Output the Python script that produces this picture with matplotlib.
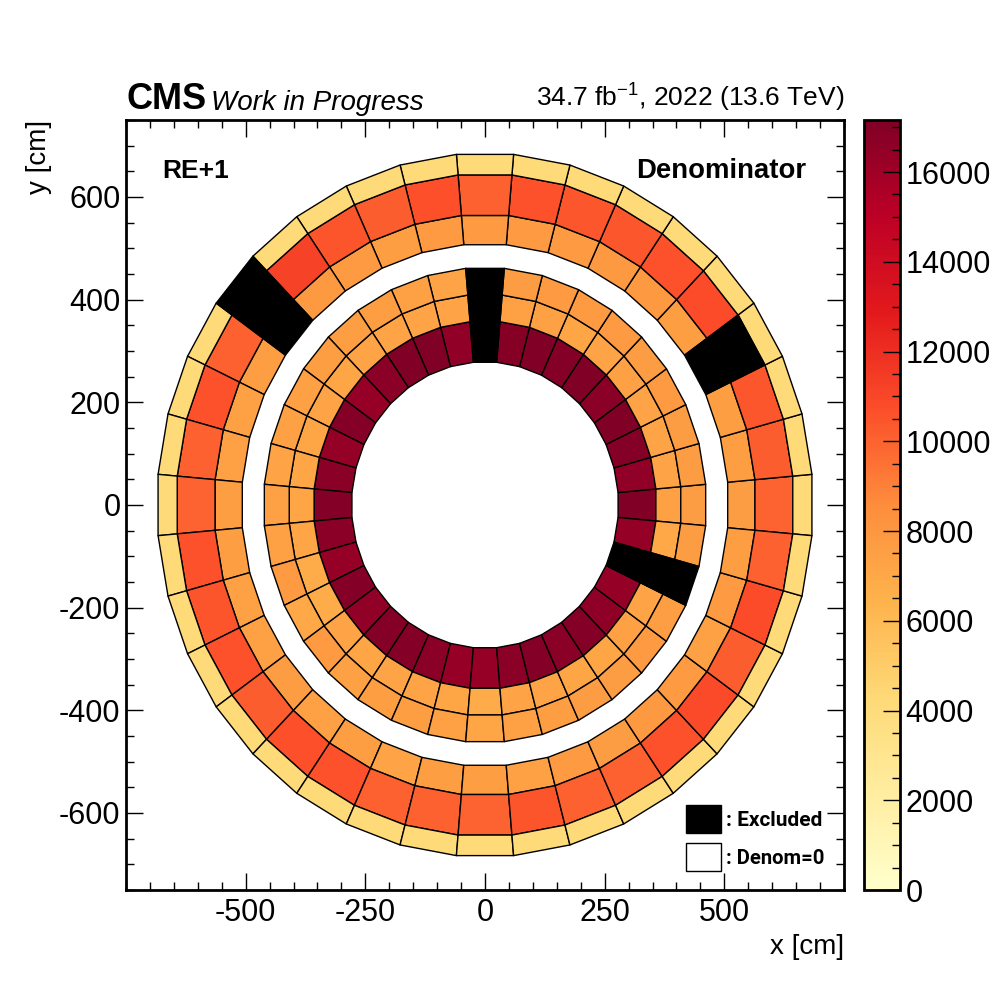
import numpy as np
import matplotlib
matplotlib.use("Agg")
import matplotlib.pyplot as plt
from matplotlib.collections import PolyCollection
from matplotlib.colors import Normalize
from matplotlib.patches import Rectangle
from matplotlib.ticker import MultipleLocator

plt.rcParams["font.family"] = ["Liberation Sans", "DejaVu Sans"]
plt.rcParams["mathtext.fontset"] = "custom"
plt.rcParams["mathtext.rm"] = "Liberation Sans"
plt.rcParams["mathtext.default"] = "rm"
plt.rcParams["axes.unicode_minus"] = False

# roll edges in cm, chambers start at phi=0 and go counter clockwise in 10 deg steps
ring3_edges = [507, 564, 643, 683]
ring2_edges = [278, 357, 409, 461]
nan = np.nan

ring3_inner = [7700, 7600, 7600, nan, 7600, 7900, 7900, 7800, 7800, 7800,
               7800, 7600, 7800, 7900, nan, 7600, 7500, 7500, 7600,
               7600, 7500, 7500, 7700, 7500, 7600, 7300, 7600, 7600,
               7500, 7800, 7700, 7900, 7800, 7500, 7800, 7600]
ring3_mid = [10000, 10200, 10400, nan, 10800, 10600, 10400, 10400, 10600, 10100,
             10700, 10200, 10500, 11200, nan, 10100, 10600, 10100, 10000,
             10600, 10500, 10600, 10200, 10700, 10600, 10100, 10100, 10000,
             10500, 10100, 10100, 10600, 10900, 10200, 10800, 10100]
ring3_outer = [4200, 4200, 4200, 4200, 4200, 4200, 4200, 4200, 4200, 4200,
               4200, 4200, 4200, 4200, nan, 4200, 4200, 4200, 4200,
               4200, 4200, 4200, 4200, 4200, 4200, 4200, 4200, 4200,
               4200, 4200, 4200, 4200, 4200, 4200, 4200, 4200]
ring2_inner = [17100, 16500, 17000, 17100, 16700, 17100, 17000, 17100, 16900, nan,
               16500, 17100, 17100, 16700, 16300, 17000, 16400, 16700, 17000,
               16800, 16300, 17000, 16500, 17000, 17000, 16800, 16300, 16300,
               16800, 17000, 16800, 17000, 16600, 16400, nan, 16400]
ring2_mid = [7400, 7300, 7300, 7300, 7400, 7300, 7200, 7400, 7400, nan,
             7300, 7300, 7300, 7300, 7200, 7300, 7200, 7200, 7200,
             7200, 6900, 6900, 7300, 7200, 7300, 7300, 7200, 6900,
             7300, 7300, 7200, 7200, 7400, 7300, nan, 7000]
ring2_outer = [7700, 7700, 7700, 7800, 7700, 7800, 7800, 7800, 7700, nan,
               7300, 7500, 7600, 7600, 7600, 7500, 7500, 7300, 7400,
               7500, 7800, 7000, 7800, 7500, 7600, 7600, 7500, 7200,
               7500, 7600, 7700, 7700, 7800, 7600, nan, 7700]

ring3_rolls = [ring3_inner, ring3_mid, ring3_outer]
ring2_rolls = [ring2_inner, ring2_mid, ring2_outer]

vmax = 17160
x_major = [-500, -250, 0, 250, 500]
y_major = [-600, -400, -200, 0, 200, 400, 600]
cbar_major = [0, 2000, 4000, 6000, 8000, 10000, 12000, 14000, 16000]


def chamber(r_in, r_out, k):
    # flat trapezoid, r is the distance of the straight edge from the centre
    phi = np.deg2rad(10 * k)
    half = np.deg2rad(5)
    pts = []
    for r, a in [(r_in, -half), (r_out, -half), (r_out, half), (r_in, half)]:
        rr = r / np.cos(half)
        pts.append([rr * np.cos(phi + a), rr * np.sin(phi + a)])
    return pts


cells, values, excluded = [], [], []
for edges, rolls in [(ring3_edges, ring3_rolls), (ring2_edges, ring2_rolls)]:
    for i, roll in enumerate(rolls):
        for k, val in enumerate(roll):
            poly = chamber(edges[i], edges[i + 1], k)
            if np.isnan(val):
                excluded.append(poly)
            else:
                cells.append(poly)
                values.append(val)

fig = plt.figure(figsize=(10, 10), dpi=100)
ax = fig.add_axes([0.126, 0.11, 0.718, 0.77])
cax = fig.add_axes([0.864, 0.11, 0.036, 0.77])

norm = Normalize(0, vmax)
pc = PolyCollection(cells, array=np.array(values), cmap="YlOrRd", norm=norm,
                    edgecolors="black", linewidths=1)
ax.add_collection(pc)
ax.add_collection(PolyCollection(excluded, facecolors="black", edgecolors="black", linewidths=1))

ax.set_xlim(-750, 750)
ax.set_ylim(-750, 750)
ax.set_xticks(x_major)
ax.set_yticks(y_major)
ax.xaxis.set_minor_locator(MultipleLocator(50))
ax.yaxis.set_minor_locator(MultipleLocator(50))
ax.tick_params(which="both", direction="in", top=True, right=True, width=1, labelsize=22)
ax.tick_params(which="major", length=12, pad=4)
ax.tick_params(which="minor", length=6)
ax.tick_params(axis="x", which="major", pad=6)
for s in ax.spines.values():
    s.set_linewidth(2)

ax.set_xlabel("x [cm]", fontsize=20, loc="right", labelpad=4)
ax.set_ylabel("y [cm]", fontsize=20, loc="top", labelpad=5)

cb = fig.colorbar(pc, cax=cax)
cb.set_ticks(cbar_major)
cax.yaxis.set_minor_locator(MultipleLocator(500))
cax.tick_params(which="both", direction="in", right=True, left=False, width=1, labelsize=22)
cax.tick_params(which="major", length=12, pad=4)
cax.tick_params(which="minor", length=6)
cb.outline.set_linewidth(2)

ax.text(0, 1.004, "CMS", transform=ax.transAxes, fontsize=26, fontweight="bold", va="bottom")
ax.text(0.118, 1.005, "Work in Progress", transform=ax.transAxes, fontsize=20,
        fontstyle="italic", va="bottom")
ax.text(1, 1.008, "34.7 fb$^{-1}$, 2022 (13.6 TeV)", transform=ax.transAxes, fontsize=19,
        ha="right", va="bottom")
ax.text(0.05, 0.934, "RE+1", transform=ax.transAxes, fontsize=19, fontweight="bold", va="center")
ax.text(0.948, 0.934, "Denominator", transform=ax.transAxes, fontsize=19.8, fontweight="bold",
        ha="right", va="center")

# excluded / empty key, bottom right
ax.add_patch(Rectangle((0.780, 0.0745), 0.049, 0.0365, transform=ax.transAxes,
                       facecolor="black", edgecolor="black", linewidth=1))
ax.add_patch(Rectangle((0.780, 0.0245), 0.049, 0.0365, transform=ax.transAxes,
                       facecolor="white", edgecolor="black", linewidth=1))
ax.text(0.835, 0.0905, ": Excluded", transform=ax.transAxes, fontsize=15, fontweight="bold",
        family="Roboto", va="center")
ax.text(0.835, 0.0415, ": Denom=0", transform=ax.transAxes, fontsize=14.6, fontweight="bold",
        family="Roboto", va="center")

fig.savefig("out.png", dpi=100)
